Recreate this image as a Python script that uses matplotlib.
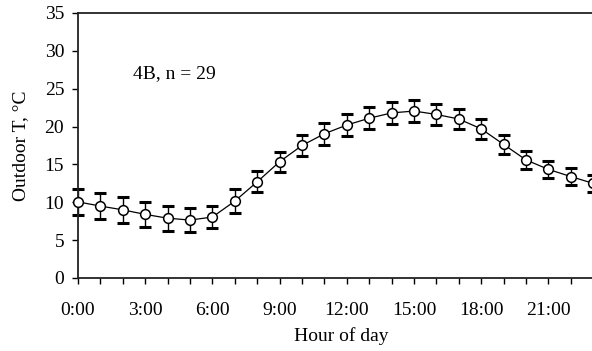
import matplotlib
matplotlib.use("Agg")
import matplotlib.pyplot as plt

# hourly mean outdoor temperature and its spread
hours = list(range(24))
temp_mean = [10.05, 9.5, 9.0, 8.4, 7.9, 7.65, 8.05, 10.15, 12.7, 15.35,
             17.5, 19.05, 20.2, 21.1, 21.8, 22.05, 21.6, 21.0, 19.7, 17.65,
             15.6, 14.35, 13.4, 12.5]
temp_err = [1.75, 1.75, 1.7, 1.7, 1.65, 1.6, 1.5, 1.55, 1.4, 1.35,
            1.4, 1.45, 1.45, 1.45, 1.5, 1.45, 1.35, 1.35, 1.3, 1.25,
            1.15, 1.1, 1.15, 1.1]
tick_hours = [0, 3, 6, 9, 12, 15, 18, 21]
tick_labels = ["0:00", "3:00", "6:00", "9:00", "12:00", "15:00", "18:00", "21:00"]

plt.rcParams["font.family"] = ["Liberation Serif", "DejaVu Serif"]

fig = plt.figure(figsize=(5.92, 3.51), dpi=100)
ax = fig.add_axes([0.1318, 0.208, 0.889, 0.755])

ax.errorbar(hours, temp_mean, yerr=temp_err, fmt="none", ecolor="black",
            elinewidth=1.0, capsize=4, capthick=2.2, zorder=2, clip_on=False)
ax.plot(hours, temp_mean, color="black", lw=0.9, marker="o", ms=7,
        mfc="white", mec="black", mew=1.1, zorder=3, clip_on=False)

ax.set_xlim(0, 23.5)
ax.set_ylim(0, 35)
ax.set_yticks(range(0, 36, 5))
ax.set_xticks(hours, minor=True)
ax.set_xticks(tick_hours)
ax.set_xticklabels(tick_labels)

ax.tick_params(axis="both", which="both", direction="out", length=4.5,
               width=1.0, labelsize=14, colors="black")
ax.tick_params(axis="x", pad=12.5)
ax.tick_params(axis="y", pad=5.5)

for s in ax.spines.values():
    s.set_linewidth(1.3)
    s.set_color("#222222")

ax.set_xlabel("Hour of day", fontsize=14, labelpad=6)
ax.set_ylabel("Outdoor T, °C", fontsize=14, labelpad=11)

ax.text(2.45, 27.0, "4B, n = 29", fontsize=14, ha="left", va="center")

fig.savefig("out.png", dpi=100)
